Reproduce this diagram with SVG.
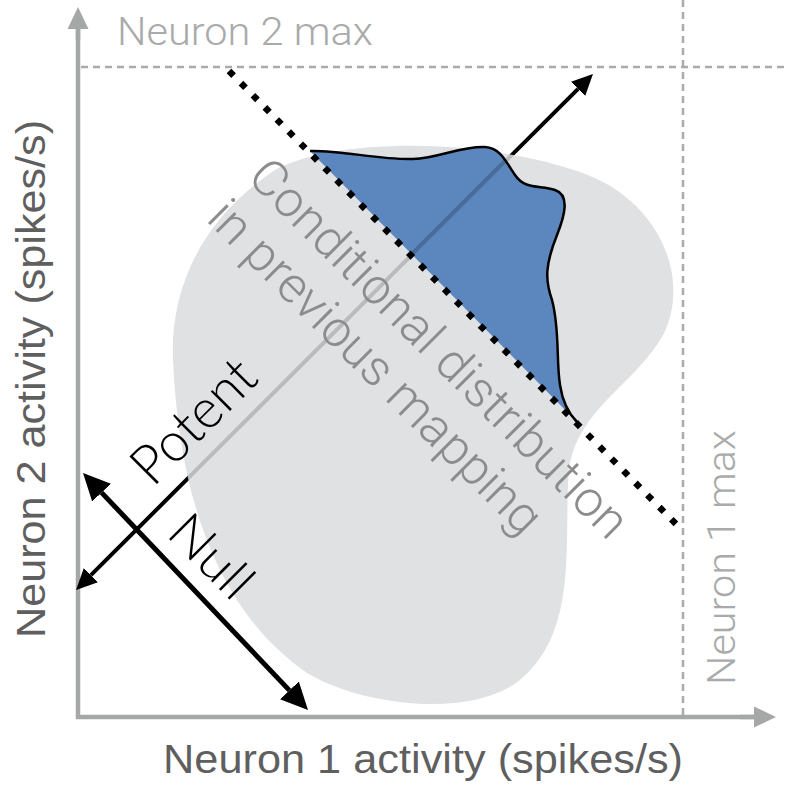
<svg xmlns="http://www.w3.org/2000/svg" width="786" height="792" viewBox="0 0 786 792">
<style>
.axis{stroke:#a6a8a8;stroke-width:4.5;fill:none}
.dash{stroke:#a9abab;stroke-width:2.5;stroke-dasharray:7 5;fill:none}
.maxlbl{font-family:Roboto,"Liberation Sans",sans-serif;font-weight:300;font-size:38px;fill:#a9abab}
.axlbl{font-family:"Liberation Sans",Arial,sans-serif;font-size:40px;fill:#5f5f5f}
.cond{font-family:Roboto,"Liberation Sans",sans-serif;font-weight:300;font-size:50px;fill:#8c8c8c}
.vec{font-family:Lato,"Liberation Sans",sans-serif;font-weight:300;fill:#000}
.arr{stroke:#000;fill:none}
</style>
<defs>
<marker id="axhead" viewBox="0 -11 22 22" markerUnits="userSpaceOnUse" markerWidth="22" markerHeight="22" refX="0" refY="0" orient="auto"><path d="M0,-10.5 L22,0 L0,10.5 z" fill="#a6a8a8"/></marker>
<marker id="phead" viewBox="0 -11 22 22" markerUnits="userSpaceOnUse" markerWidth="22" markerHeight="22" refX="0" refY="0" orient="auto-start-reverse"><path d="M0,-10 L21,0 L0,10 z" fill="#000"/></marker>
<marker id="nhead" viewBox="0 -14 28 28" markerUnits="userSpaceOnUse" markerWidth="28" markerHeight="28" refX="0" refY="0" orient="auto-start-reverse"><path d="M0,-13 L27,0 L0,13 z" fill="#000"/></marker>
</defs>

<g id="axes">
<path class="axis" d="M78,719 L78,29"/>
<path class="axis" d="M76,717 L754,717"/>
<path d="M78,40 L78,29" class="axis" marker-end="url(#axhead)"/>
<path d="M740,717 L754,717" class="axis" marker-end="url(#axhead)"/>
</g>

<g id="max-lines">
<path class="dash" d="M81,67 L786,67"/>
<path class="dash" d="M683,0 L683,716"/>
</g>

<g id="connectors">
<path id="potent-arrow" class="arr" stroke-width="4" d="M90.9,575.2 L578.1,88.8" marker-start="url(#phead)" marker-end="url(#phead)"/>
<path id="null-arrow" class="arr" stroke-width="5" d="M101.6,492.6 L289.4,690.4" marker-start="url(#nhead)" marker-end="url(#nhead)"/>
</g>

<g id="distribution">
<path id="blob" fill="#dbdcdd" fill-opacity="0.85" d="M173,360 C170,290 200,220 275,170 C330,140 470,135 580,172 C662,200 692,282 662,337 C632,387 577,410 569,470 C563,540 580,630 520,680 C470,720 360,705 307,673 C230,620 180,520 173,360 Z"/>
</g>

<g id="conditional">
<path id="cond-fill" fill="#5b87be" d="M310,151 C340,150 380,160 413,159 C440,158 460,146 485,147 C500,148 505,160 515,175 C525,190 540,185 555,190 C570,195 565,215 557,235 C545,265 545,280 552,300 C560,330 556,360 560,385 C563,405 570,415 577,422 Z"/>
<path d="M410.5,255.5 L505,161" stroke="#000" stroke-opacity="0.2" stroke-width="4"/>
<path id="cond-outline" fill="none" stroke="#000" stroke-width="2.5" stroke-linejoin="round" d="M310,151 C340,150 380,160 413,159 C440,158 460,146 485,147 C500,148 505,160 515,175 C525,190 540,185 555,190 C570,195 565,215 557,235 C545,265 545,280 552,300 C560,330 556,360 560,385 C563,405 570,415 577,422"/>
<path id="boundary" d="M229,71 L676,524" stroke="#000" stroke-width="6.5" stroke-dasharray="6.5 10.52" fill="none"/>
</g>

<g id="labels">
<text class="maxlbl" x="117" y="45" textLength="256" lengthAdjust="spacingAndGlyphs">Neuron 2 max</text>
<text class="maxlbl" transform="translate(735,685) rotate(-90)" textLength="255" lengthAdjust="spacingAndGlyphs">Neuron 1 max</text>
<text class="axlbl" transform="translate(45,638) rotate(-90)" textLength="518" lengthAdjust="spacingAndGlyphs">Neuron 2 activity (spikes/s)</text>
<text class="axlbl" x="163" y="773" textLength="520" lengthAdjust="spacingAndGlyphs">Neuron 1 activity (spikes/s)</text>
<text class="cond" transform="translate(246,179) rotate(45)" textLength="513" lengthAdjust="spacingAndGlyphs">Conditional distribution</text>
<text class="cond" transform="translate(205,220) rotate(45)" textLength="449" lengthAdjust="spacingAndGlyphs">in previous mapping</text>
<text class="vec" font-size="55" transform="translate(153,488) rotate(-45)" textLength="152" lengthAdjust="spacingAndGlyphs">Potent</text>
<text class="vec" font-size="52" transform="translate(165,535) rotate(45)" textLength="96" lengthAdjust="spacingAndGlyphs">Null</text>
</g>
</svg>
